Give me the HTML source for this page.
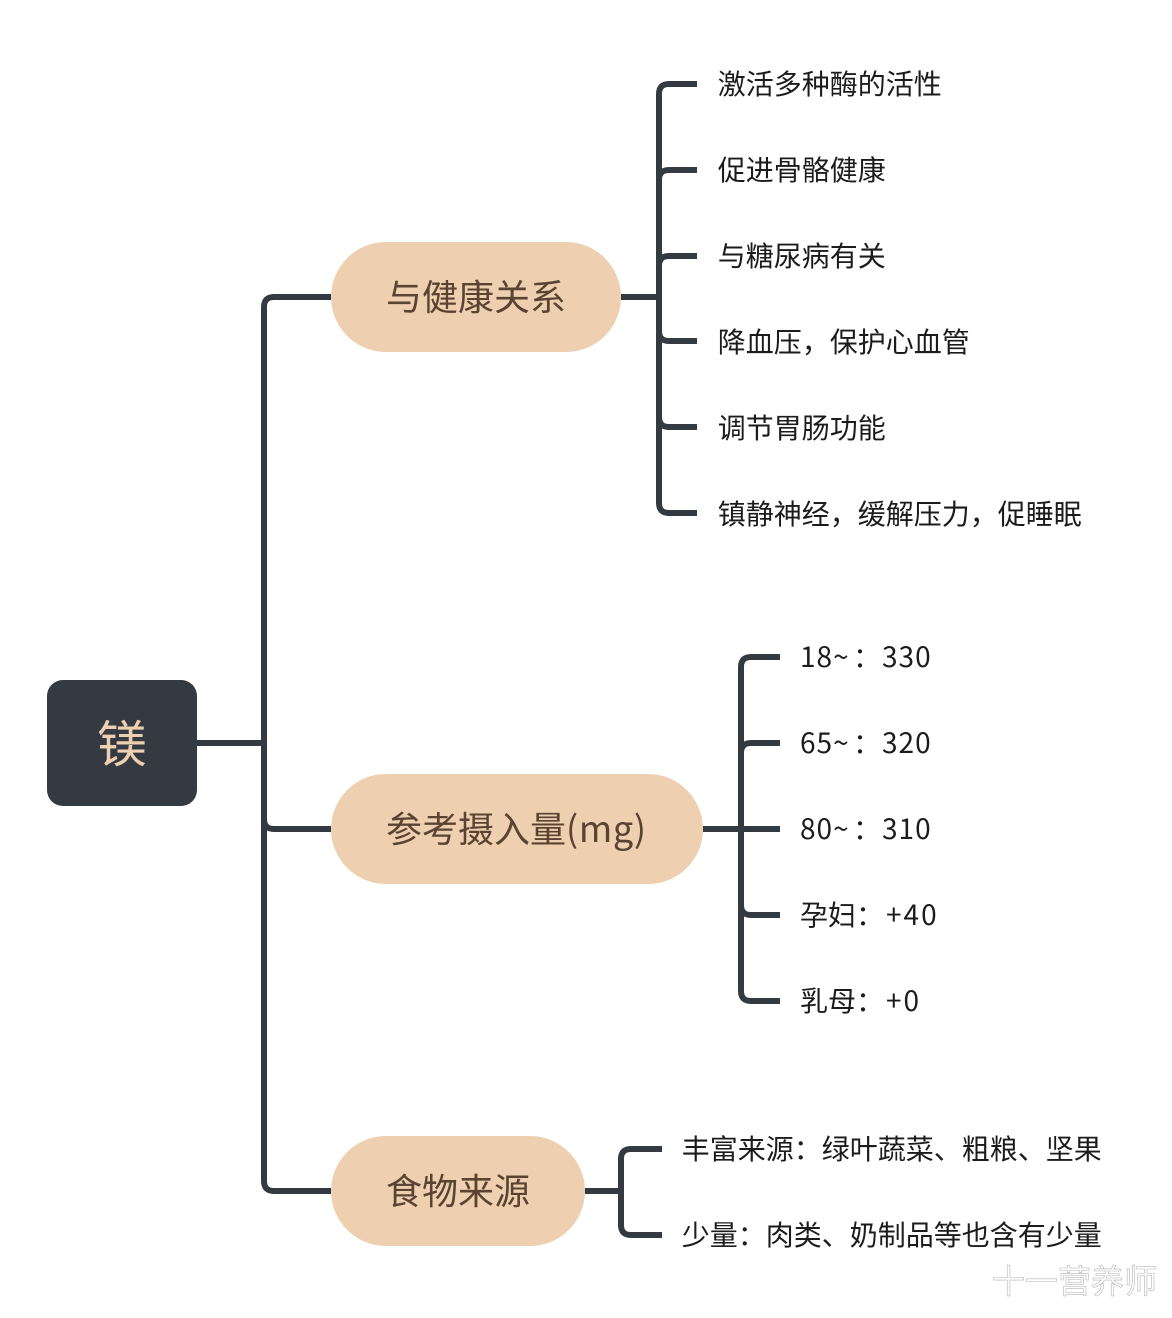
<!DOCTYPE html>
<html><head><meta charset="utf-8">
<style>
html,body{margin:0;padding:0;background:#fff;width:1172px;height:1318px;overflow:hidden}
svg{display:block}
text{font-family:"Noto Sans CJK SC","Liberation Sans",sans-serif;font-weight:400}
.l{font-size:28px;fill:#1c1c1c;}
.b{font-size:36px;fill:#5a4431;}
.n{letter-spacing:1px}
.p{letter-spacing:2px}
.m{letter-spacing:.7px}
</style></head><body>
<svg width="1172" height="1318" viewBox="0 0 1172 1318" xmlns="http://www.w3.org/2000/svg">
<g fill="none" stroke="#343a42" stroke-width="6">
<path d="M197 743H264"/>
<path d="M331 297H274Q264 297 264 307V1181Q264 1191 274 1191H331"/>
<path d="M264 819Q264 829 274 829H331"/>
<path d="M621 297H659"/>
<path d="M697 84H669Q659 84 659 94V503Q659 513 669 513H697"/>
<path d="M659 180Q659 170 669 170H697"/>
<path d="M659 266Q659 256 669 256H697"/>
<path d="M659 331Q659 341 669 341H697"/>
<path d="M659 417Q659 427 669 427H697"/>
<path d="M703 829H780"/>
<path d="M780 657H751Q741 657 741 667V991Q741 1001 751 1001H780"/>
<path d="M741 753Q741 743 751 743H780"/>
<path d="M741 905Q741 915 751 915H780"/>
<path d="M585 1191H621"/>
<path d="M662 1149H631Q621 1149 621 1159V1225Q621 1235 631 1235H662"/>
</g>
<rect x="47" y="680" width="150" height="126" rx="16" fill="#343a42"/>
<text x="122" y="762" text-anchor="middle" fill="#eecfb0" style="font-size:50px">镁</text>
<rect x="331" y="242" width="290" height="110" rx="55" fill="#eecfb0"/>
<rect x="331" y="774" width="372" height="110" rx="55" fill="#eecfb0"/>
<rect x="331" y="1136" width="254" height="110" rx="55" fill="#eecfb0"/>
<text class="b" x="386" y="310">与健康关系</text>
<text class="b" y="842"><tspan x="386">参考摄入量</tspan><tspan class="m">(mg)</tspan></text>
<text class="b" x="386" y="1204">食物来源</text>
<text class="l" x="717.7" y="94">激活多种酶的活性</text>
<text class="l" x="717.7" y="180">促进骨骼健康</text>
<text class="l" x="717.7" y="266">与糖尿病有关</text>
<text class="l" x="717.7" y="352">降血压，保护心血管</text>
<text class="l" x="717.7" y="438">调节胃肠功能</text>
<text class="l" x="717.7" y="524">镇静神经，缓解压力，促睡眠</text>
<text class="l" y="667"><tspan class="n" x="800">18~</tspan><tspan x="853">：</tspan><tspan class="n" x="882">330</tspan></text>
<text class="l" y="753"><tspan class="n" x="800">65~</tspan><tspan x="853">：</tspan><tspan class="n" x="882">320</tspan></text>
<text class="l" y="839"><tspan class="n" x="800">80~</tspan><tspan x="853">：</tspan><tspan class="n" x="882">310</tspan></text>
<text class="l" y="925"><tspan x="800">孕妇：</tspan><tspan class="p" x="886">+40</tspan></text>
<text class="l" y="1011"><tspan x="800">乳母：</tspan><tspan class="p" x="886">+0</tspan></text>
<text class="l" x="681.7" y="1159">丰富来源：绿叶蔬菜、粗粮、坚果</text>
<text class="l" x="681.7" y="1245">少量：肉类、奶制品等也含有少量</text>
<text x="992" y="1293" style="font-size:33px" fill="#fff" stroke="#b5b5b5" stroke-width="0.6">十一营养师</text>
</svg>
</body></html>
